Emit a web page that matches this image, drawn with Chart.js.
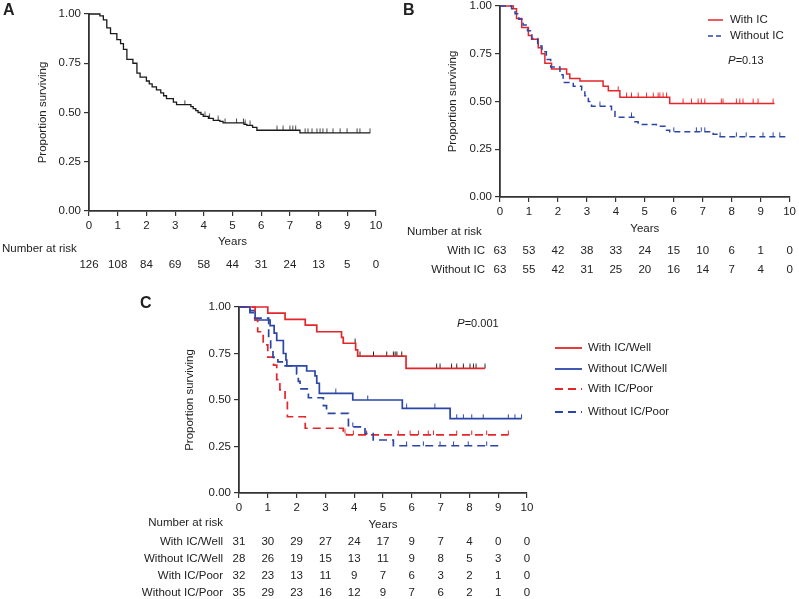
<!DOCTYPE html>
<html>
<head>
<meta charset="utf-8">
<script src="https://cdn.jsdelivr.net/npm/chart.js@4.4.1/dist/chart.umd.min.js"></script>
<style>
  body { margin: 0; background: #fff; }
  #wrap { position: relative; width: 799px; height: 599px; overflow: hidden; background: #fff; }
  canvas { position: absolute; }
  #panelA { left: 0; top: 0; }
  #panelB { left: 400px; top: -4px; }
  #panelC { left: 0; top: 296px; }
</style>
</head>
<body>
<div id="wrap">
  <canvas id="panelA" width="400" height="300"></canvas>
  <canvas id="panelB" width="399" height="300"></canvas>
  <canvas id="panelC" width="799" height="303"></canvas>
</div>
<script>
// ---- data ----
const riskYears = [0, 1, 2, 3, 4, 5, 6, 7, 8, 9, 10];

// A: all patients
const timesA = [0, 0.38, 0.5, 0.62, 0.75, 0.97, 1.1, 1.2, 1.32, 1.53, 1.67, 1.78, 2.0, 2.1, 2.2, 2.35, 2.5, 2.6, 2.7, 2.94,
  3.05, 3.55, 3.63, 3.72, 3.8, 3.9, 3.98, 4.16, 4.33, 4.56, 4.67, 5.4, 5.5, 5.7, 5.85, 7.35, 9.8];
const survA = [1.0, 0.99, 0.97, 0.93, 0.90, 0.87, 0.85, 0.82, 0.77, 0.75, 0.70, 0.68, 0.66, 0.645, 0.63, 0.615, 0.60, 0.585, 0.57, 0.553,
  0.54, 0.53, 0.52, 0.51, 0.50, 0.49, 0.48, 0.47, 0.46, 0.455, 0.447, 0.44, 0.435, 0.425, 0.41, 0.397, 0.397];
const censorA = [3.34, 4.04, 4.2, 4.5, 4.74, 5.14, 5.38, 5.44, 5.61, 6.55, 6.76, 7.0, 7.1, 7.2, 7.53, 7.63, 7.77, 7.94, 8.05,
  8.15, 8.29, 8.5, 8.75, 8.99, 9.34, 9.44, 9.79];
const riskA = [126, 108, 84, 69, 58, 44, 31, 24, 13, 5, 0];

// B: with / without IC
const timesBWith = [0, 0.46, 0.57, 0.75, 0.98, 1.09, 1.32, 1.43, 1.55, 1.78, 2.3, 2.41, 2.76, 3.56, 3.74, 4.14, 5.86, 9.48];
const survBWith = [1, 0.985, 0.935, 0.888, 0.845, 0.826, 0.782, 0.75, 0.70, 0.67, 0.644, 0.62, 0.607, 0.58, 0.556, 0.522, 0.49, 0.49];
const censorBWith = [4.08, 4.37, 4.54, 4.77, 5.06, 5.29, 5.46, 5.52, 5.63, 5.75, 6.32, 6.61, 6.84, 6.95, 7.07, 7.64, 7.7,
  8.16, 8.28, 8.39, 8.74, 8.91, 9.43];
const timesBWithout = [0, 0.4, 0.52, 0.65, 0.8, 0.95, 1.1, 1.3, 1.45, 1.6, 1.75, 2.07, 2.18, 2.53, 2.82, 2.93, 3.05, 3.16,
  3.85, 3.97, 4.66, 4.77, 5.4, 5.75, 5.86, 7.36, 7.53, 9.94];
const survBWithout = [1, 0.985, 0.96, 0.93, 0.90, 0.87, 0.83, 0.79, 0.76, 0.72, 0.68, 0.64, 0.60, 0.58, 0.56, 0.53, 0.50, 0.475,
  0.447, 0.417, 0.394, 0.38, 0.37, 0.35, 0.342, 0.328, 0.316, 0.316];
const censorBWithout = [3.45, 4.54, 6.0, 6.78, 6.95, 7.07, 7.6, 8.16, 8.5, 9.08, 9.43, 9.66];
const riskBWith = [63, 53, 42, 38, 33, 24, 15, 10, 6, 1, 0];
const riskBWithout = [63, 55, 42, 31, 25, 20, 16, 14, 7, 4, 0];

// C: IC x differentiation
const timesCWithWell = [0, 1.0, 1.6, 2.3, 2.7, 3.56, 3.62, 4.05, 4.12, 5.8, 8.54];
const survCWithWell = [1, 0.967, 0.934, 0.903, 0.867, 0.837, 0.805, 0.77, 0.736, 0.67, 0.67];
const censorCWithWell = [4.03, 4.2, 4.67, 5.13, 5.36, 5.42, 5.48, 5.65, 6.86, 6.98, 7.38, 7.56, 7.79, 8.02, 8.14, 8.23, 8.54];

const timesCWithoutWell = [0, 0.38, 0.56, 1.08, 1.22, 1.31, 1.54, 1.63, 1.66, 2.35, 2.64, 2.7, 2.79, 3.95, 5.67, 7.33, 9.81];
const survCWithoutWell = [1, 0.98, 0.93, 0.90, 0.86, 0.82, 0.75, 0.715, 0.683, 0.656, 0.63, 0.59, 0.536, 0.50, 0.455, 0.40, 0.40];
const censorCWithoutWell = [3.36, 4.47, 5.82, 6.8, 7.56, 7.79, 8.08, 8.48, 9.35, 9.58, 9.81];

const timesCWithPoor = [0, 0.56, 0.65, 0.84, 1.0, 1.2, 1.31, 1.42, 1.6, 1.68, 2.3, 3.62, 3.73, 9.35];
const survCWithPoor = [1, 0.93, 0.867, 0.796, 0.73, 0.688, 0.61, 0.554, 0.51, 0.41, 0.348, 0.32, 0.312, 0.312];
const censorCWithPoor = [3.68, 3.97, 4.43, 5.53, 5.94, 6.23, 6.57, 6.75, 7.56, 8.08, 8.6, 9.35];

const timesCWithoutPoor = [0, 0.38, 0.5, 1.03, 1.1, 1.18, 1.35, 1.6, 2.0, 2.06, 2.12, 2.41, 2.93, 3.04, 3.8, 4.375, 4.66, 5.36, 9.06];
const survCWithoutPoor = [1, 0.97, 0.94, 0.83, 0.78, 0.73, 0.705, 0.683, 0.64, 0.60, 0.56, 0.512, 0.47, 0.428, 0.356, 0.32, 0.285, 0.254, 0.254];
const censorCWithoutPoor = [3.95, 5.82, 6.4, 6.98, 7.45, 7.96, 8.6];

const riskCLabels = ['With IC/Well', 'Without IC/Well', 'With IC/Poor', 'Without IC/Poor'];
const riskCWithWell = [31, 30, 29, 27, 24, 17, 9, 7, 4, 0, 0];
const riskCWithoutWell = [28, 26, 19, 15, 13, 11, 9, 8, 5, 3, 0];
const riskCWithPoor = [32, 23, 13, 11, 9, 7, 6, 3, 2, 1, 0];
const riskCWithoutPoor = [35, 29, 23, 16, 12, 9, 7, 6, 2, 1, 0];

// ---- styling ----
const RED = '#e3262b';
const BLUE = '#2b46a6';
const BLACK = '#1a1a1a';
const AXIS = '#333';
const TEXT = '#222';
const FONT = '11.5px "Liberation Sans", Arial, sans-serif';

Chart.defaults.font.family = '"Liberation Sans", Arial, sans-serif';
Chart.defaults.font.size = 11.5;
Chart.defaults.color = TEXT;

loadPanelA();
loadPanelB();
loadPanelC();

function survAt(times, surv, t) {
  let v = surv[0];
  for (let i = 0; i < times.length; i++) {
    if (times[i] <= t) v = surv[i];
  }
  return v;
}

// small upward tick used as the censoring marker
function tickStyle(color) {
  const c = document.createElement('canvas');
  c.width = 3;
  c.height = 10;
  const g = c.getContext('2d');
  g.strokeStyle = color;
  g.lineWidth = 1;
  g.beginPath();
  g.moveTo(1.5, 0.5);
  g.lineTo(1.5, 5);
  g.stroke();
  return c;
}

function stepLine(times, surv, color, width, dash) {
  return {
    data: times.map((t, i) => ({ x: t, y: surv[i] })),
    borderColor: color,
    borderWidth: width,
    borderDash: dash || [],
    stepped: true,
    pointRadius: 0,
    fill: false,
    clip: 6
  };
}

function censorMarks(times, surv, marks, color) {
  return {
    data: marks.map(t => ({ x: t, y: survAt(times, surv, t) })),
    showLine: false,
    pointStyle: tickStyle(color),
    pointRadius: 4,
    borderColor: color,
    clip: 8
  };
}

function kmOptions(pad, yWidth, xHeight) {
  return {
    responsive: false,
    animation: false,
    events: [],
    layout: { padding: pad },
    plugins: { legend: { display: false }, tooltip: { enabled: false } },
    scales: {
      x: {
        type: 'linear',
        min: 0,
        max: 10,
        ticks: { stepSize: 1, padding: 3, maxRotation: 0, color: TEXT },
        grid: { drawOnChartArea: false, drawTicks: true, tickLength: 5, color: AXIS, lineWidth: 1.2 },
        border: { display: true, color: AXIS, width: 1.8 },
        title: { display: true, text: 'Years', color: TEXT, padding: 0 },
        afterFit: s => { s.height = xHeight; }
      },
      y: {
        min: 0,
        max: 1,
        ticks: { stepSize: 0.25, padding: 3, color: TEXT, callback: v => v.toFixed(2) },
        grid: { drawOnChartArea: false, drawTicks: true, tickLength: 5, color: AXIS, lineWidth: 1.2 },
        border: { display: true, color: AXIS, width: 1.8 },
        title: { display: true, text: 'Proportion surviving', color: TEXT, padding: 0 },
        afterFit: s => { s.width = yWidth; }
      }
    }
  };
}

function textLayer(drawFn) {
  return {
    id: 'textLayer',
    afterDraw(chart) {
      const ctx = chart.ctx;
      ctx.save();
      drawFn(ctx, chart);
      ctx.restore();
    }
  };
}

function put(ctx, text, x, y, align, font) {
  ctx.font = font || FONT;
  ctx.textAlign = align || 'left';
  ctx.textBaseline = 'middle';
  ctx.fillStyle = TEXT;
  ctx.fillText(text, x, y);
}

function riskRow(ctx, chart, values, y) {
  values.forEach((v, i) => put(ctx, String(v), chart.scales.x.getPixelForValue(riskYears[i]), y, 'center'));
}

function legendLine(ctx, x1, x2, y, color, width, dash) {
  ctx.beginPath();
  ctx.strokeStyle = color;
  ctx.lineWidth = width;
  ctx.setLineDash(dash || []);
  ctx.moveTo(x1, y);
  ctx.lineTo(x2, y);
  ctx.stroke();
  ctx.setLineDash([]);
}

function pValue(ctx, x, y, value) {
  put(ctx, 'P', x, y, 'left', 'italic 11.5px "Liberation Sans", Arial, sans-serif');
  const w = ctx.measureText('P').width;
  put(ctx, '=' + value, x + w, y, 'left', '11px "Liberation Sans", Arial, sans-serif');
}

function loadPanelA() {
  const data = {
    datasets: [
      stepLine(timesA, survA, BLACK, 1.3),
      censorMarks(timesA, survA, censorA, '#444')
    ]
  };
  const config = {
    type: 'line',
    data: data,
    options: kmOptions({ left: 36, right: 24, top: 14, bottom: 51 }, 53, 38),
    plugins: [textLayer((ctx, chart) => {
      put(ctx, 'A', 3, 11, 'left', 'bold 16px "Liberation Sans", Arial, sans-serif');
      put(ctx, 'Number at risk', 2, 249, 'left');
      riskRow(ctx, chart, riskA, 265);
    })]
  };
  new Chart(document.getElementById('panelA'), config);
}

function loadPanelB() {
  const data = {
    datasets: [
      stepLine(timesBWithout, survBWithout, BLUE, 1.5, [6, 4]),
      stepLine(timesBWith, survBWith, RED, 1.5),
      censorMarks(timesBWithout, survBWithout, censorBWithout, BLUE),
      censorMarks(timesBWith, survBWith, censorBWith, RED)
    ]
  };
  const config = {
    type: 'line',
    data: data,
    options: kmOptions({ left: 46, right: 9, top: 10, bottom: 60 }, 54, 39),
    plugins: [textLayer((ctx, chart) => {
      put(ctx, 'B', 3, 15, 'left', 'bold 16px "Liberation Sans", Arial, sans-serif');
      legendLine(ctx, 308, 323, 24, RED, 1.5);
      put(ctx, 'With IC', 330, 24, 'left');
      legendLine(ctx, 308, 323, 40, BLUE, 1.5, [5, 3]);
      put(ctx, 'Without IC', 330, 40, 'left');
      pValue(ctx, 328, 65, '0.13');
      put(ctx, 'Number at risk', 7, 236, 'left');
      put(ctx, 'With IC', 85, 255, 'right');
      riskRow(ctx, chart, riskBWith, 255);
      put(ctx, 'Without IC', 85, 274, 'right');
      riskRow(ctx, chart, riskBWithout, 274);
    })]
  };
  new Chart(document.getElementById('panelB'), config);
}

function loadPanelC() {
  const data = {
    datasets: [
      stepLine(timesCWithoutPoor, survCWithoutPoor, BLUE, 1.7, [8, 5]),
      stepLine(timesCWithPoor, survCWithPoor, RED, 1.7, [8, 5]),
      stepLine(timesCWithoutWell, survCWithoutWell, BLUE, 1.7),
      stepLine(timesCWithWell, survCWithWell, RED, 1.7),
      censorMarks(timesCWithoutPoor, survCWithoutPoor, censorCWithoutPoor, BLUE),
      censorMarks(timesCWithPoor, survCWithPoor, censorCWithPoor, RED),
      censorMarks(timesCWithoutWell, survCWithoutWell, censorCWithoutWell, BLUE),
      censorMarks(timesCWithWell, survCWithWell, censorCWithWell, BLACK)
    ]
  };
  const rows = [riskCWithWell, riskCWithoutWell, riskCWithPoor, riskCWithoutPoor];
  const rowY = [246, 263, 280, 297];
  const legendY = [52, 73, 93, 116];
  const legendColor = [RED, BLUE, RED, BLUE];
  const legendDash = [[], [], [8, 5], [8, 5]];
  const config = {
    type: 'line',
    data: data,
    options: kmOptions({ left: 183, right: 272, top: 11, bottom: 67 }, 56, 39),
    plugins: [textLayer((ctx, chart) => {
      put(ctx, 'C', 140, 8, 'left', 'bold 16px "Liberation Sans", Arial, sans-serif');
      pValue(ctx, 457, 28, '0.001');
      riskCLabels.forEach((label, i) => {
        legendLine(ctx, 555, 582, legendY[i], legendColor[i], 1.8, legendDash[i]);
        put(ctx, label, 588, legendY[i], 'left');
      });
      put(ctx, 'Number at risk', 223, 227, 'right');
      riskCLabels.forEach((label, i) => {
        put(ctx, label, 223, rowY[i], 'right');
        riskRow(ctx, chart, rows[i], rowY[i]);
      });
    })]
  };
  new Chart(document.getElementById('panelC'), config);
}
</script>
</body>
</html>
